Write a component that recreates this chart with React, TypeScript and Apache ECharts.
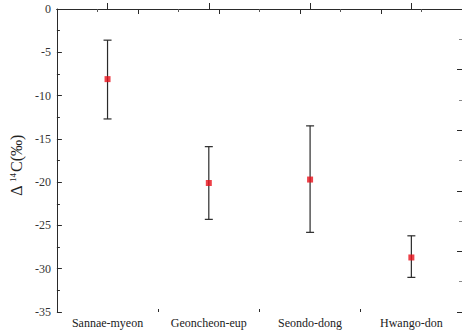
import React, { useEffect, useRef } from "react";
import * as echarts from "echarts";

const categories = ["Sannae-myeon", "Geoncheon-eup", "Seondo-dong", "Hwango-don"];
const means = [-8.1, -20.1, -19.7, -28.7];
const upper = [-3.6, -15.9, -13.5, -26.2];
const lower = [-12.7, -24.3, -25.8, -31.0];
const yMin = -35;
const yMax = 0;
const yInterval = 5;

const FONT = "'Liberation Serif', 'Times New Roman', 'DejaVu Serif', serif";
const AXIS = "#2a2a2a";

export default function App() {
  const ref = useRef<HTMLDivElement>(null);
  useEffect(() => {
    if (!ref.current) return;
    const chart = echarts.init(ref.current, null, { renderer: "svg" });
    const errData = categories.map((c, i) => [i, lower[i], upper[i]]);
    const option: any = {
      animation: false,
      backgroundColor: "#ffffff",
      textStyle: { fontFamily: FONT },
      grid: { left: 54, top: 9, width: 412, height: 303, containLabel: false },
      xAxis: [
        {
          type: "category",
          data: categories,
          position: "bottom",
          boundaryGap: true,
          axisLine: { show: true, lineStyle: { color: AXIS, width: 1 } },
          axisTick: { show: true, inside: true, alignWithLabel: true, length: 6, lineStyle: { color: AXIS } },
          axisLabel: { color: "#222", fontFamily: FONT, fontSize: 12, margin: 5 },
          splitLine: { show: false },
        },
        {
          type: "value",
          position: "bottom",
          min: 0,
          max: 4,
          interval: 1,
          axisLine: { show: false },
          axisTick: { show: true, inside: true, length: 3, lineStyle: { color: AXIS } },
          axisLabel: { show: false },
          splitLine: { show: false },
        },
        {
          type: "value",
          position: "top",
          min: 0,
          max: 5,
          interval: 1,
          axisLine: { show: true, onZero: false, lineStyle: { color: AXIS, width: 1 } },
          axisTick: { show: true, inside: true, length: 5, lineStyle: { color: AXIS } },
          minorTick: { show: true, splitNumber: 2, length: 3, lineStyle: { color: "#555" } },
          axisLabel: { show: false },
          splitLine: { show: false },
        },
      ],
      yAxis: [
        {
          type: "value",
          min: yMin,
          max: yMax,
          interval: yInterval,
          position: "left",
          axisLine: { show: true, onZero: false, lineStyle: { color: AXIS, width: 1 } },
          axisTick: { show: true, inside: true, length: 5, lineStyle: { color: AXIS } },
          minorTick: { show: true, splitNumber: 2, length: 3, lineStyle: { color: AXIS } },
          axisLabel: { color: "#333", fontFamily: FONT, fontSize: 12, margin: 6 },
          splitLine: { show: false },
          name: "{a|Δ }{b|14}{a|C(‰)}",
          nameLocation: "middle",
          nameGap: 27,
          nameRotate: 90,
          nameTextStyle: {
            fontFamily: FONT,
            color: "#222",
            padding: [0, 10, 0, 0],
            rich: {
              a: { fontFamily: FONT, fontSize: 16, color: "#222" },
              b: { fontFamily: FONT, fontSize: 9, color: "#222", verticalAlign: "top", padding: [0, 1, 7, 0] },
            },
          },
        },
        {
          type: "value",
          min: 0,
          max: 5,
          interval: 1,
          position: "right",
          axisLine: { show: true, onZero: false, lineStyle: { color: AXIS, width: 1 } },
          axisTick: { show: true, inside: true, length: 5, lineStyle: { color: AXIS } },
          minorTick: { show: true, splitNumber: 2, length: 3, lineStyle: { color: "#888" } },
          axisLabel: { show: false },
          splitLine: { show: false },
        },
      ],
      series: [
        {
          type: "custom",
          xAxisIndex: 0,
          yAxisIndex: 0,
          data: errData,
          renderItem: (params: any, api: any) => {
            const x = api.value(0);
            const lo = api.coord([x, api.value(1)]);
            const hi = api.coord([x, api.value(2)]);
            const hw = 4;
            const style = { stroke: "#2a2a2a", lineWidth: 1.2 };
            return {
              type: "group",
              children: [
                { type: "line", shape: { x1: lo[0], y1: lo[1], x2: hi[0], y2: hi[1] }, style },
                { type: "line", shape: { x1: lo[0] - hw, y1: lo[1], x2: lo[0] + hw, y2: lo[1] }, style },
                { type: "line", shape: { x1: hi[0] - hw, y1: hi[1], x2: hi[0] + hw, y2: hi[1] }, style },
              ],
            };
          },
          z: 2,
        },
        {
          type: "scatter",
          xAxisIndex: 0,
          yAxisIndex: 0,
          data: means.map((m, i) => [i, m]),
          symbol: "rect",
          symbolSize: 6,
          itemStyle: { color: "#e8101a" },
          z: 3,
        },
      ],
    };
    chart.setOption(option);
    return () => chart.dispose();
  }, []);
  return (
    <div
      ref={ref}
      style={{ position: "fixed", left: 0, top: 0, width: 462, height: 333, background: "#fff" }}
    />
  );
}
